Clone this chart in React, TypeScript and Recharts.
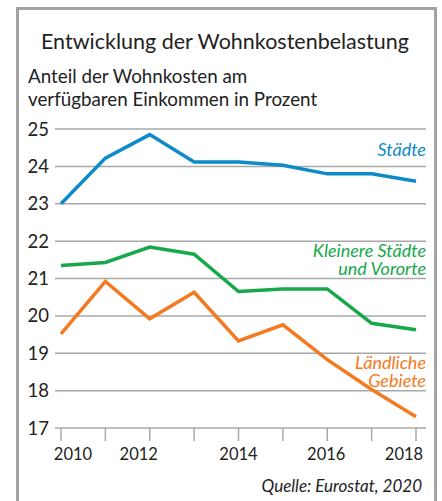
import React from 'react';
import { LineChart, Line, XAxis, YAxis, CartesianGrid } from 'recharts';

const years = [2010, 2011, 2012, 2013, 2014, 2015, 2016, 2017, 2018];
const staedte = [23.0, 24.22, 24.85, 24.12, 24.12, 24.03, 23.8, 23.8, 23.6];
const kleinereStaedte = [21.35, 21.43, 21.84, 21.65, 20.65, 20.72, 20.72, 19.8, 19.63];
const laendlich = [19.52, 20.92, 19.92, 20.63, 19.33, 19.76, 18.83, 18.03, 17.3];
const yTicks = [17, 18, 19, 20, 21, 22, 23, 24, 25];
const xLabelYears = [2010, 2012, 2014, 2016, 2018];

const title = 'Entwicklung der Wohnkostenbelastung';
const subtitle1 = 'Anteil der Wohnkosten am';
const subtitle2 = 'verfügbaren Einkommen in Prozent';
const source = 'Quelle: Eurostat, 2020';

const BLUE = '#0d8bc9';
const GREEN = '#17a84b';
const ORANGE = '#f47a22';
const GRID = '#a8a8a8';
const TEXT = '#222';
const FONT = 'Lato, sans-serif';

const data = years.map((y, i) => ({
  year: y,
  staedte: staedte[i],
  kleinere: kleinereStaedte[i],
  laendlich: laendlich[i],
}));

const labelShift: Record<number, number> = { 2010: 12, 2012: -11, 2014: 0, 2016: -1, 2018: -12 };

const XTick = (props: any) => {
  const { x, y, payload } = props;
  const v = payload.value as number;
  if (!xLabelYears.includes(v)) return null;
  return (
    <text x={x + (labelShift[v] || 0)} y={y + 17} textAnchor="middle" fontSize={16.5} fontFamily={FONT} fill={TEXT}>
      {v}
    </text>
  );
};

export default function App() {
  return (
    <div style={{ position: 'absolute', left: 0, top: 0, width: 442, height: 501, background: '#fff', overflow: 'hidden', fontFamily: FONT }}>
      <div style={{ position: 'absolute', left: 16, top: 7, width: 421, height: 520, border: '3px solid #a3a3a3', boxSizing: 'border-box' }} />
      <div style={{ position: 'absolute', left: 0, width: 450, top: 28, textAlign: 'center', fontSize: 21.5, color: TEXT, lineHeight: '26px' }}>{title}</div>
      <div style={{ position: 'absolute', left: 28, top: 64, fontSize: 18.8, color: TEXT, lineHeight: '23px' }}>
        <div>{subtitle1}</div>
        <div>{subtitle2}</div>
      </div>
      <LineChart width={442} height={501} data={data} margin={{ top: 129, right: 16, bottom: 0, left: 0 }} style={{ position: 'absolute', left: 0, top: 0 }}>
        <CartesianGrid horizontal vertical={false} stroke={GRID} strokeWidth={1.5} />
        <XAxis
          dataKey="year"
          type="number"
          domain={[2010, 2018]}
          ticks={years}
          padding={{ left: 6, right: 10 }}
          axisLine={false}
          tickLine={{ stroke: GRID, strokeWidth: 1.5 }}
          tickSize={13}
          tick={<XTick />}
          interval={0}
          height={73}
        />
        <YAxis
          domain={[17, 25]}
          ticks={yTicks}
          width={55}
          axisLine={false}
          tickLine={false}
          tickSize={0}
          tickMargin={6}
          tick={{ fontSize: 18.5, fontFamily: FONT, fill: TEXT }}
        />
        <Line dataKey="staedte" stroke={BLUE} strokeWidth={3.5} dot={false} isAnimationActive={false} />
        <Line dataKey="kleinere" stroke={GREEN} strokeWidth={3.5} dot={false} isAnimationActive={false} />
        <Line dataKey="laendlich" stroke={ORANGE} strokeWidth={3.5} dot={false} isAnimationActive={false} />
      </LineChart>
      <div style={{ position: 'absolute', right: 16, top: 140, fontSize: 18, fontStyle: 'italic', color: BLUE, textAlign: 'right', lineHeight: '18px' }}>Städte</div>
      <div style={{ position: 'absolute', right: 16, top: 242, fontSize: 18, fontStyle: 'italic', color: GREEN, textAlign: 'right', lineHeight: '17.5px' }}>
        <div>Kleinere Städte</div>
        <div>und Vororte</div>
      </div>
      <div style={{ position: 'absolute', right: 16, top: 353, fontSize: 18, fontStyle: 'italic', color: ORANGE, textAlign: 'right', lineHeight: '18px' }}>
        <div>Ländliche</div>
        <div>Gebiete</div>
      </div>
      <div style={{ position: 'absolute', right: 20, top: 476, fontSize: 17, fontStyle: 'italic', color: TEXT, textAlign: 'right', lineHeight: '19px' }}>{source}</div>
    </div>
  );
}
